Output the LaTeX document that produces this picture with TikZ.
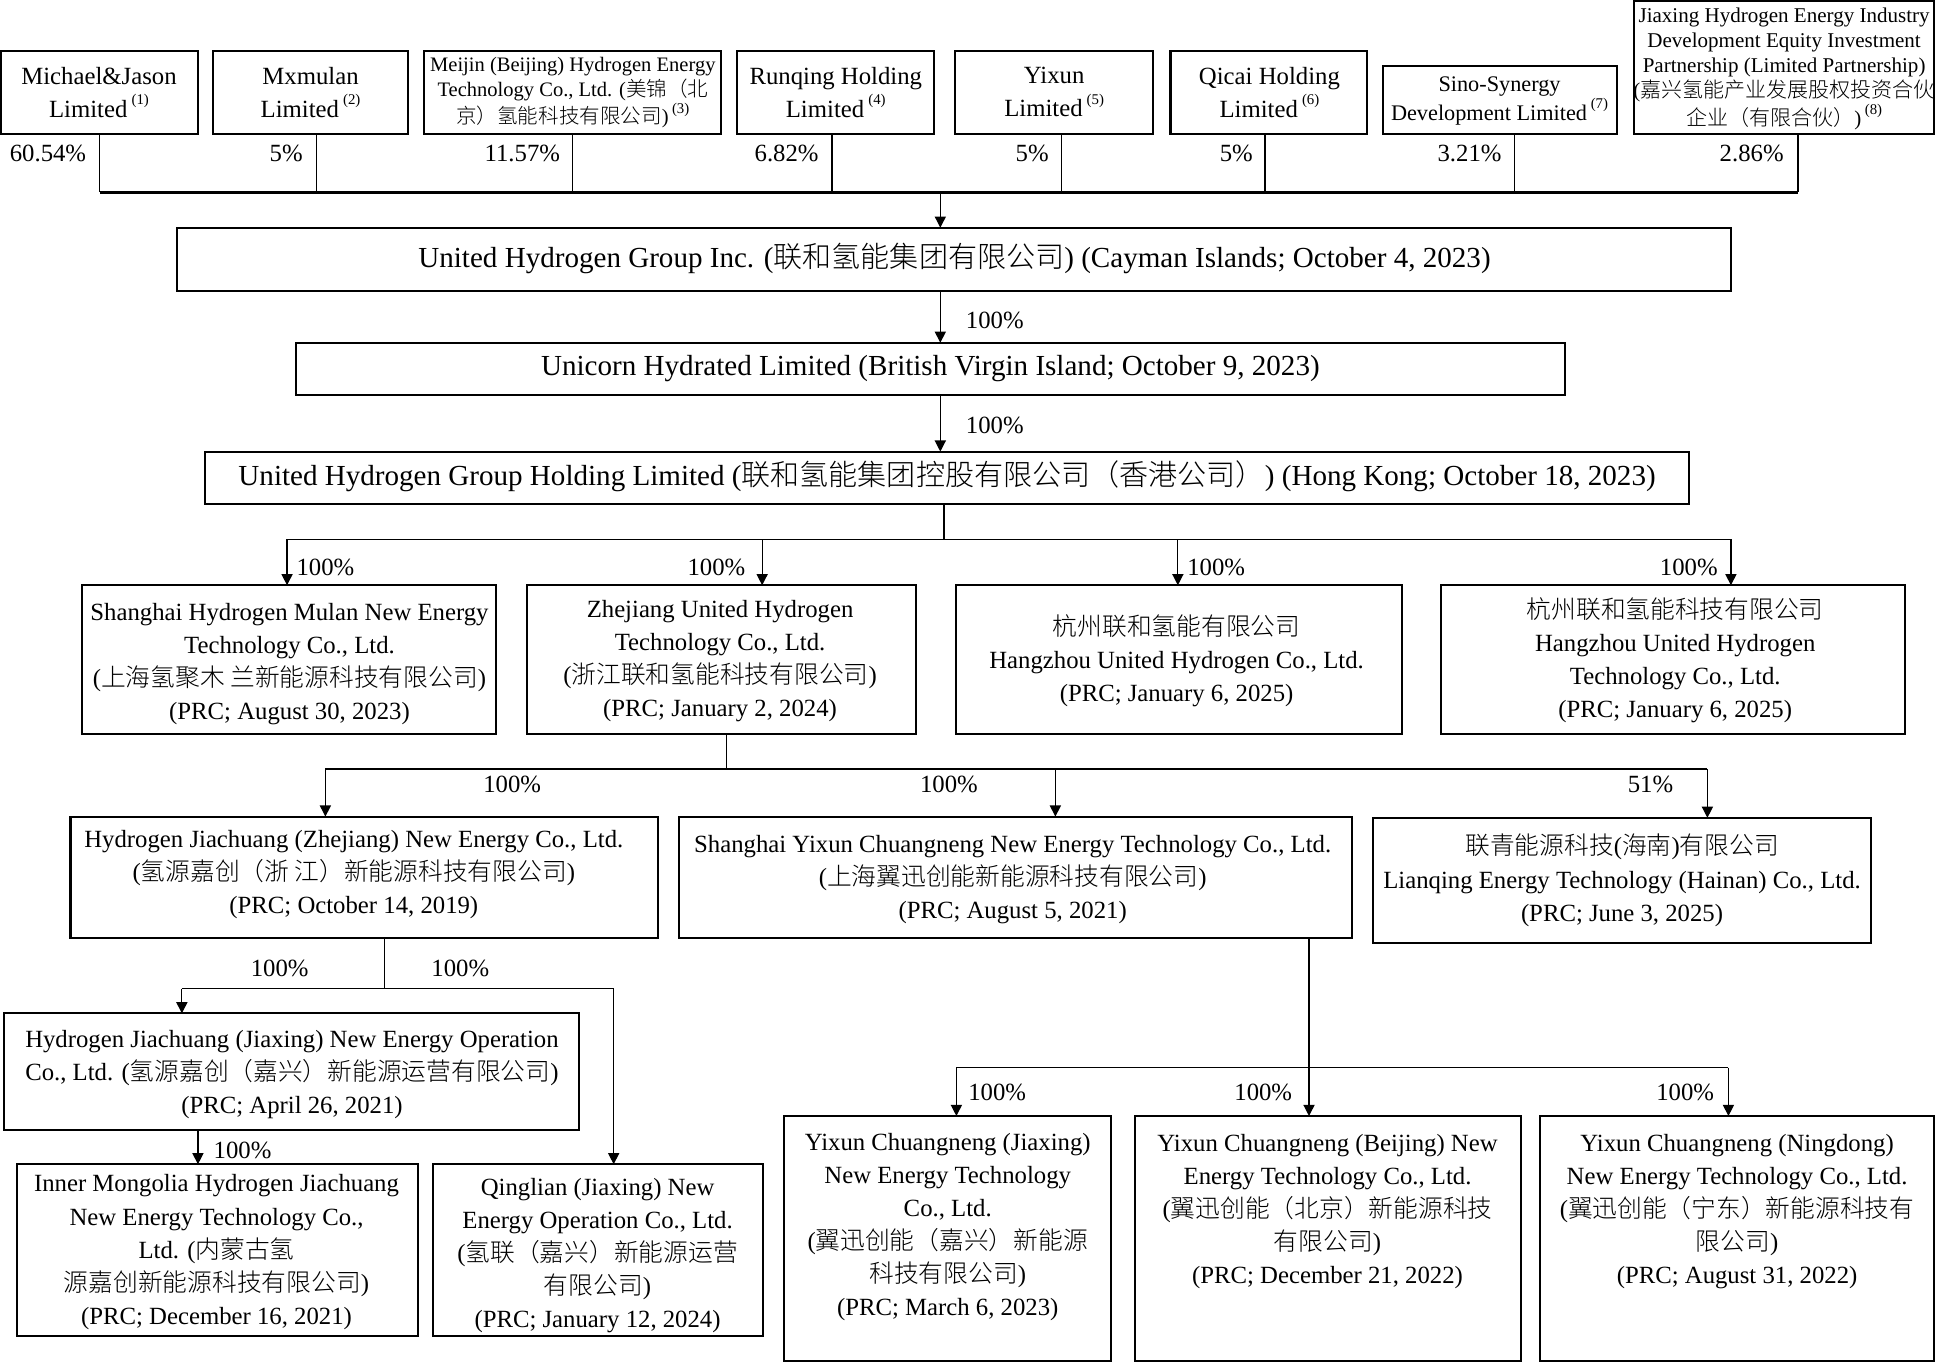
\documentclass[tikz,border=0pt]{standalone}
\usepackage{fontspec}
\setmainfont{Liberation Serif}
\newfontfamily\cjk{Noto Sans CJK SC}[UprightFont={* Light}]
\usetikzlibrary{arrows.meta}
\newcommand\zh[1]{{\cjk #1}}
\newcommand\fnote[1]{\,\raisebox{0.5em}{\fontsize{6pt}{6pt}\selectfont(#1)}}
\newcommand\bx[5]{\node[boxst, minimum width={(#4-#2)*0.5pt}, minimum height={(#5-#3)*0.5pt}] (#1) at ({(#2+#4)/2},{(#3+#5)/2}) {};}
\begin{document}
\begin{tikzpicture}[x=0.5pt,y=-0.5pt,
  boxst/.style={draw, line width=0.85pt, inner sep=0pt, outer sep=0pt},
  txt/.style={align=center, inner sep=0pt, font=\fontsize{10pt}{13.35pt}\selectfont},
  bigtxt/.style={align=center, inner sep=0pt, font=\fontsize{11.75pt}{14pt}\selectfont},
  smalltxt/.style={align=center, inner sep=0pt, font=\fontsize{8.3pt}{10pt}\selectfont},
  pct/.style={inner sep=0pt, font=\fontsize{10pt}{12pt}\selectfont},
  conn/.style={line width=0.5pt},
  bus/.style={line width=0.9pt},
  arr/.style={line width=0.5pt, -{Triangle[length=4.5pt,width=4.5pt]}}]
\useasboundingbox (0,0) rectangle (1568,1101);
% ---------- shareholders
\bx{s1}{1}{41}{160}{108}
\bx{s2}{172}{41}{330}{108}
\bx{s3}{343}{41}{583}{108}
\bx{s4}{596}{41}{755}{108}
\bx{s5}{772}{41}{932}{108}
\bx{s6}{946}{41}{1105}{108}
\bx{s7}{1118}{53}{1307}{108}
\bx{s8}{1321}{1}{1563}{108}
\node[txt] (s1t) at (80,74.5) {Michael\&Jason\\Limited\fnote{1}};
\node[txt] (s2t) at (251,74.5) {Mxmulan\\Limited\fnote{2}};
\node[smalltxt] (s3t) at (463,75) {Meijin (Beijing) Hydrogen Energy\\Technology Co., Ltd. (\zh{美锦（北}\\\zh{京）氢能科技有限公司})\fnote{3}};
\node[txt] (s4t) at (675.5,74.5) {Runqing Holding\\Limited\fnote{4}};
\node[txt] (s5t) at (852,74.5) {Yixun\\Limited\fnote{5}};
\node[txt] (s6t) at (1026,74.5) {Qicai Holding\\Limited\fnote{6}};
\node[align=center, inner sep=0pt, font=\fontsize{9pt}{11.5pt}\selectfont] (s7t) at (1212,81.5) {Sino-Synergy\\Development Limited\fnote{7}};
\node[align=center, inner sep=0pt, font=\fontsize{8.5pt}{10.1pt}\selectfont] (s8t) at (1442,55.5) {Jiaxing Hydrogen Energy Industry\\Development Equity Investment\\Partnership (Limited Partnership)\\(\zh{嘉兴氢能产业发展股权投资合伙}\\\zh{企业（有限合伙）})\fnote{8}};
\coordinate (bus) at (760,155.5);
\draw[conn] (s1.south) -- (s1.south |- bus);
\draw[conn] ([xshift=2.4pt]s2.south) -- ([xshift=2.4pt]s2.south |- bus);
\draw[conn] (s3.south) -- (s3.south |- bus);
\draw[conn] ([xshift=-1.5pt]s4.south) -- ([xshift=-1.5pt]s4.south |- bus);
\draw[conn] ([xshift=3pt]s5.south) -- ([xshift=3pt]s5.south |- bus);
\draw[conn] ([xshift=-1.5pt]s6.south) -- ([xshift=-1.5pt]s6.south |- bus);
\draw[conn] ([xshift=5.75pt]s7.south) -- ([xshift=5.75pt]s7.south |- bus);
\draw[conn] ([xshift=5.6pt]s8.south) -- ([xshift=5.6pt]s8.south |- bus);
\draw[bus] (s1.south |- bus) -- ([xshift=5.6pt]s8.south |- bus);
\node[pct, anchor=east] (p1) at (70,124) {60.54\%};
\node[pct, anchor=east] (p2) at (245,124) {5\%};
\node[pct, anchor=east] (p3) at (453,124) {11.57\%};
\node[pct, anchor=east] (p4) at (662,124) {6.82\%};
\node[pct, anchor=east] (p5) at (848,124) {5\%};
\node[pct, anchor=east] (p6) at (1013,124) {5\%};
\node[pct, anchor=east] (p7) at (1214,124) {3.21\%};
\node[pct, anchor=east] (p8) at (1442,124) {2.86\%};
% ---------- holding chain
\bx{uhg}{143}{184}{1399}{235}
\node[bigtxt] (uhgt) at (771.5,209) {United Hydrogen Group Inc. (\zh{联和氢能集团有限公司}) (Cayman Islands; October 4, 2023)};
\bx{uni}{239}{277}{1265}{319}
\node[bigtxt] (unit) at (752,298) {Unicorn Hydrated Limited (British Virgin Island; October 9, 2023)};
\bx{hk}{166}{365}{1365}{407}
\node[bigtxt] (hkt) at (765.5,385) {United Hydrogen Group Holding Limited (\zh{联和氢能集团控股有限公司（香港公司）}) (Hong Kong; October 18, 2023)};
\draw[arr] (bus) -- (bus |- uhg.north);
\draw[arr] (uhg.south -| bus) -- (uni.north -| bus);
\draw[arr] (uni.south -| bus) -- (hk.north -| bus);
\node[pct] (q1) at (804,259) {100\%};
\node[pct] (q2) at (804,344) {100\%};
% ---------- level 2
\bx{A}{66}{473}{401}{593}
\bx{B}{426}{473}{740}{593}
\bx{C}{773}{473}{1133}{593}
\bx{D}{1165}{473}{1540}{593}
\node[txt] (At) at (234,537) {Shanghai Hydrogen Mulan New Energy\\Technology Co., Ltd.\\(\zh{上海氢聚木 兰新能源科技有限公司})\\(PRC; August 30, 2023)};
\node[txt] (Bt) at (582,534.5) {Zhejiang United Hydrogen\\Technology Co., Ltd.\\(\zh{浙江联和氢能科技有限公司})\\(PRC; January 2, 2024)};
\node[txt] (Ct) at (951,534) {\zh{杭州联和氢能有限公司}\\Hangzhou United Hydrogen Co., Ltd.\\(PRC; January 6, 2025)};
\node[txt] (Dt) at (1354,533.5) {\zh{杭州联和氢能科技有限公司}\\Hangzhou United Hydrogen\\Technology Co., Ltd.\\(PRC; January 6, 2025)};
\coordinate (hb) at (763,436);
\coordinate (h1) at (232,436);
\coordinate (h2) at (616,436);
\coordinate (h3) at (952,436);
\coordinate (h4) at (1399,436);
\draw[conn] (hk.south -| hb) -- (hb);
\draw[conn] (h1) -- (h4);
\draw[arr] (h1) -- (h1 |- A.north);
\draw[arr] (h2) -- (h2 |- B.north);
\draw[arr] (h3) -- (h3 |- C.north);
\draw[arr] (h4) -- (h4 |- D.north);
\node[pct] (r1) at (263,459) {100\%};
\node[pct] (r2) at (579,459) {100\%};
\node[pct] (r3) at (983,459) {100\%};
\node[pct] (r4) at (1365,459) {100\%};
% ---------- level 3
\bx{E}{57}{660}{532}{758}
\bx{F}{549}{660}{1093}{758}
\bx{G}{1110}{661}{1512}{762}
\node[txt] (Et) at (286,707) {Hydrogen Jiachuang (Zhejiang) New Energy Co., Ltd.\\(\zh{氢源嘉创（浙 江）新能源科技有限公司})\\(PRC; October 14, 2019)};
\node[txt] (Ft) at (818.5,711) {Shanghai Yixun Chuangneng New Energy Technology Co., Ltd.\\(\zh{上海翼迅创能新能源科技有限公司})\\(PRC; August 5, 2021)};
\node[txt] (Gt) at (1311,711.5) {\zh{联青能源科技}(\zh{海南})\zh{有限公司}\\Lianqing Energy Technology (Hainan) Co., Ltd.\\(PRC; June 3, 2025)};
\coordinate (bb) at (587,621.5);
\coordinate (k1) at (263,621.5);
\coordinate (k2) at (853,621.5);
\coordinate (k3) at (1380,621.5);
\draw[conn] (B.south -| bb) -- (bb);
\draw[bus] (k1) -- (k3);
\draw[arr] (k1) -- (k1 |- E.north);
\draw[arr] (k2) -- (k2 |- F.north);
\draw[arr] (k3) -- (k3 |- G.north);
\node[pct] (t1) at (414,634) {100\%};
\node[pct] (t2) at (767,634) {100\%};
\node[pct] (t3) at (1334,634) {51\%};
% ---------- level 4 left
\bx{H}{3}{819}{468}{913.5}
\bx{I}{14}{941}{338}{1080}
\bx{J}{350}{941}{617}{1080}
\node[txt] (Ht) at (236,868.5) {Hydrogen Jiachuang (Jiaxing) New Energy Operation\\Co., Ltd. (\zh{氢源嘉创（嘉兴）新能源运营有限公司})\\(PRC; April 26, 2021)};
\node[txt] (It) at (175,1012) {Inner Mongolia Hydrogen Jiachuang\\New Energy Technology Co.,\\Ltd. (\zh{内蒙古氢}\\\zh{源嘉创新能源科技有限公司})\\(PRC; December 16, 2021)};
\node[txt] (Jt) at (483,1014.5) {Qinglian (Jiaxing) New\\Energy Operation Co., Ltd.\\(\zh{氢联（嘉兴）新能源运营}\\\zh{有限公司})\\(PRC; January 12, 2024)};
\coordinate (eb) at (311,799);
\coordinate (e1) at (147,799);
\coordinate (e2) at (496,799);
\draw[conn] (E.south -| eb) -- (eb);
\draw[conn] (e1) -- (e2);
\draw[arr] (e1) -- (e1 |- H.north);
\draw[arr] (e2) -- (e2 |- J.north);
\node[pct] (u1) at (226,783) {100\%};
\node[pct] (u2) at (372,783) {100\%};
\coordinate (hi) at (160,913.5);
\draw[arr] (H.south -| hi) -- (I.north -| hi);
\node[pct] (u3) at (196,930) {100\%};
% ---------- level 4 right
\bx{K}{634}{902}{898}{1100}
\bx{L}{917}{902}{1229}{1100}
\bx{M}{1245}{902}{1563}{1100}
\node[txt] (Kt) at (766,992) {Yixun Chuangneng (Jiaxing)\\New Energy Technology\\Co., Ltd.\\(\zh{翼迅创能（嘉兴）新能源}\\\zh{科技有限公司})\\(PRC; March 6, 2023)};
\node[txt] (Lt) at (1073,979) {Yixun Chuangneng (Beijing) New\\Energy Technology Co., Ltd.\\(\zh{翼迅创能（北京）新能源科技}\\\zh{有限公司})\\(PRC; December 21, 2022)};
\node[txt] (Mt) at (1404,979) {Yixun Chuangneng (Ningdong)\\New Energy Technology Co., Ltd.\\(\zh{翼迅创能（宁东）新能源科技有}\\\zh{限公司})\\(PRC; August 31, 2022)};
\coordinate (fb) at (1058,863);
\coordinate (f1) at (773,863);
\coordinate (f3) at (1397,863);
\draw[conn] (F.south -| fb) -- (fb);
\draw[conn] (f1) -- (f3);
\draw[arr] (f1) -- (f1 |- K.north);
\draw[arr] (fb) -- (fb |- L.north);
\draw[arr] (f3) -- (f3 |- M.north);
\node[pct] (w1) at (806,883) {100\%};
\node[pct] (w2) at (1021,883) {100\%};
\node[pct] (w3) at (1362,883) {100\%};
\end{tikzpicture}
\end{document}
